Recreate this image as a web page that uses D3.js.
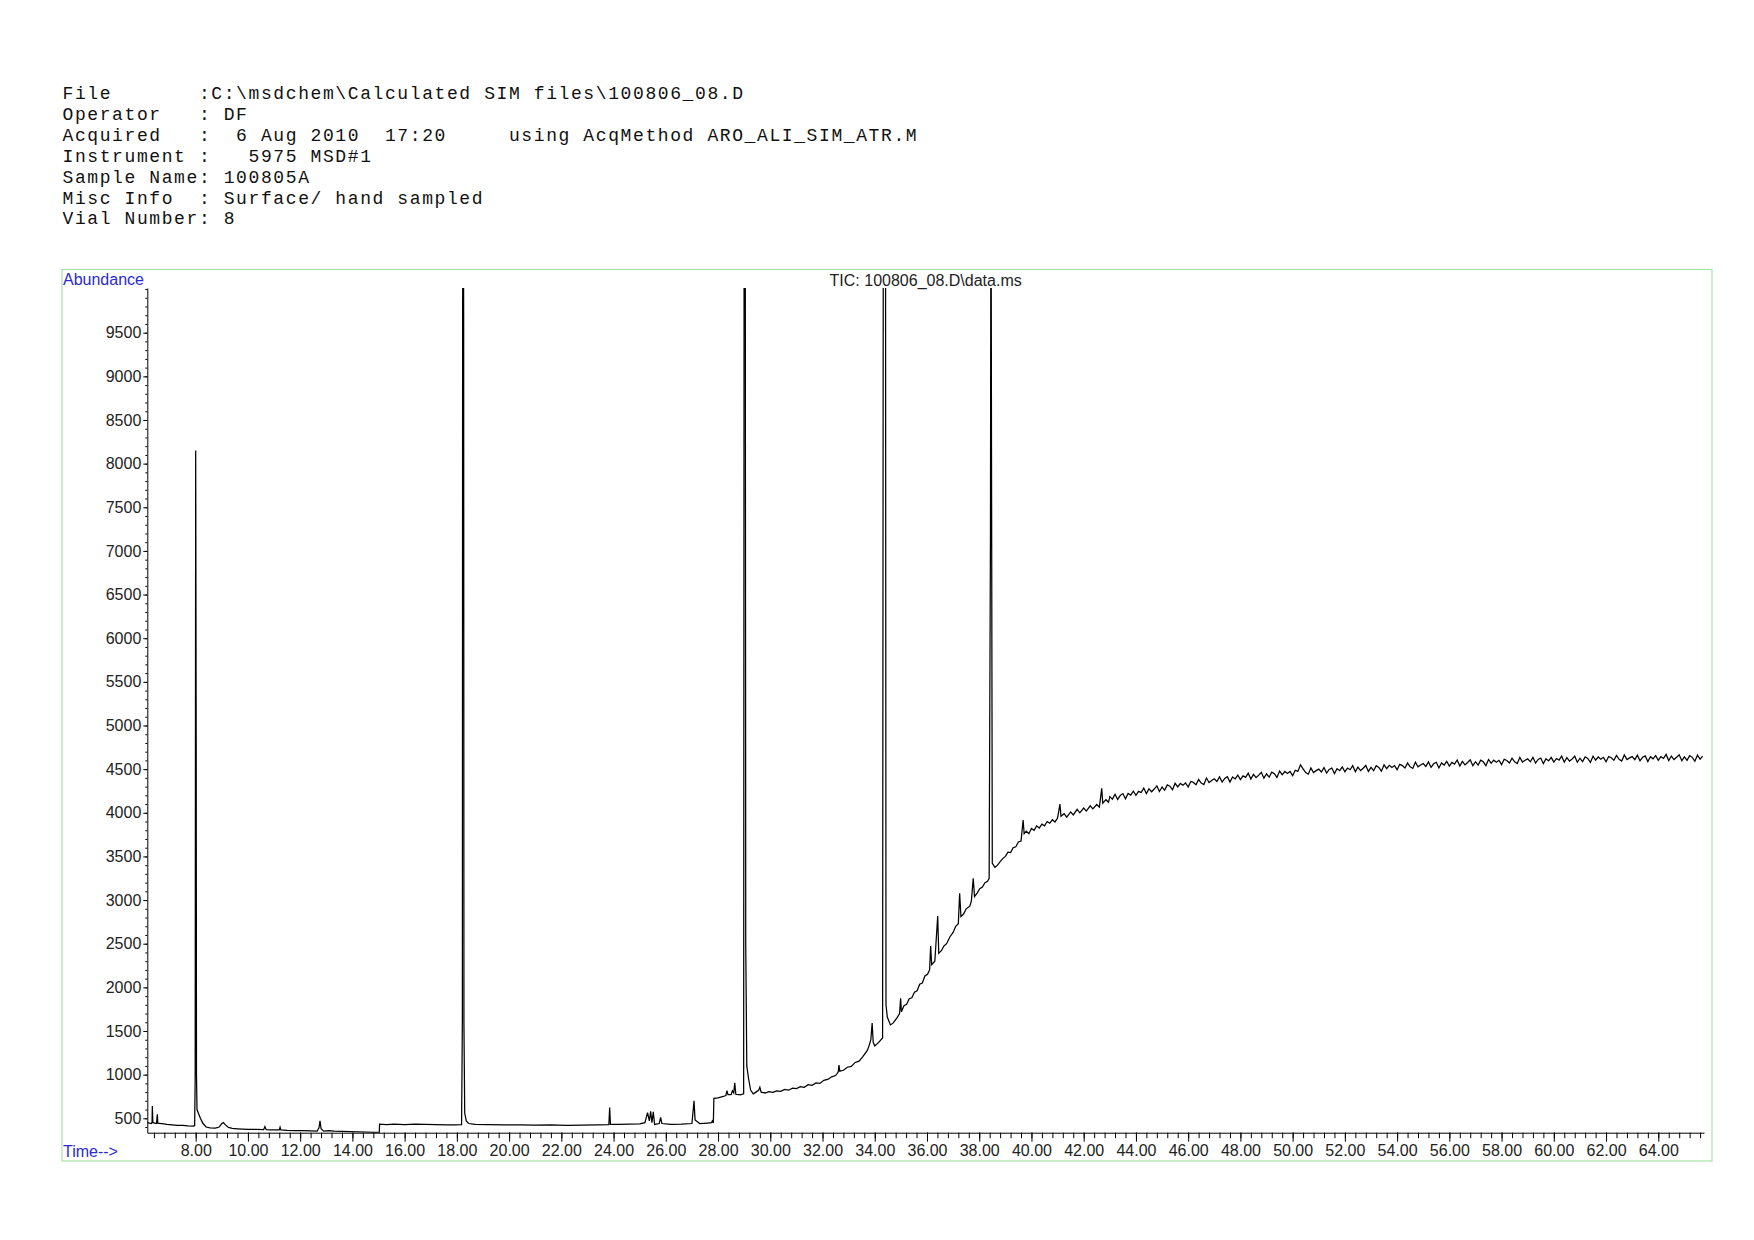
<!DOCTYPE html>
<html>
<head>
<meta charset="utf-8">
<script src="https://cdn.jsdelivr.net/npm/d3@7"></script>
<style>
  html, body { margin: 0; padding: 0; background: #fff; }
  svg { display: block; }
</style>
</head>
<body>
<script>
// header block printed above the chromatogram
const headerLines = [
  'File       :C:\\msdchem\\Calculated SIM files\\100806_08.D',
  'Operator   : DF',
  'Acquired   :  6 Aug 2010  17:20     using AcqMethod ARO_ALI_SIM_ATR.M',
  'Instrument :   5975 MSD#1',
  'Sample Name: 100805A',
  'Misc Info  : Surface/ hand sampled',
  'Vial Number: 8'
];
const chartTitle = 'TIC: 100806_08.D\\data.ms';

const yTicks = [500, 1000, 1500, 2000, 2500, 3000, 3500, 4000, 4500, 5000,
  5500, 6000, 6500, 7000, 7500, 8000, 8500, 9000, 9500];
const xTicks = [8, 10, 12, 14, 16, 18, 20, 22, 24, 26, 28, 30, 32, 34, 36, 38,
  40, 42, 44, 46, 48, 50, 52, 54, 56, 58, 60, 62, 64];

// TIC trace: [time (min), abundance], up to 43 min
const ticEarly = [
  [6.15, 450], [6.30, 440], [6.33, 455], [6.34, 640], [6.36, 450], [6.50, 440], [6.53, 545], [6.55, 445],
  [6.70, 440], [6.90, 430], [7.10, 425], [7.30, 420], [7.50, 418], [7.70, 412], [7.90, 410], [7.96, 415],
  [7.98, 950], [7.99, 4700], [8.00, 8150], [8.02, 4700], [8.03, 1000], [8.05, 600], [8.10, 560], [8.18, 500],
  [8.28, 440], [8.40, 400], [8.55, 390], [8.75, 388], [8.90, 400], [9.00, 440], [9.06, 452], [9.12, 430],
  [9.25, 395], [9.40, 385], [9.60, 380], [9.80, 376], [10.00, 372], [10.30, 374], [10.60, 370], [10.65, 404],
  [10.70, 370], [10.90, 366], [11.20, 368], [11.23, 398], [11.26, 366], [11.50, 362], [11.80, 360], [12.10, 358],
  [12.40, 356], [12.65, 352], [12.72, 390], [12.76, 472], [12.80, 380], [12.90, 352], [13.10, 358], [13.30, 352],
  [13.60, 350], [13.90, 348], [14.20, 345], [14.50, 343], [14.80, 340], [15.03, 338], [15.04, 432], [15.30, 428],
  [15.60, 432], [16.00, 428], [16.40, 434], [16.80, 430], [17.20, 428], [17.60, 426], [17.90, 424], [18.18, 426],
  [18.21, 1600], [18.22, 9700], [18.24, 12000], [18.26, 9700], [18.27, 1600], [18.30, 560], [18.36, 470], [18.45, 440],
  [18.70, 430], [19.20, 428], [19.80, 426], [20.40, 424], [21.00, 422], [21.60, 425], [22.20, 420], [22.80, 422],
  [23.40, 424], [23.82, 428], [23.85, 624], [23.88, 430], [24.20, 430], [24.60, 432], [25.00, 436], [25.20, 450],
  [25.30, 565], [25.37, 470], [25.42, 580], [25.47, 450], [25.52, 575], [25.57, 430], [25.75, 440], [25.80, 510],
  [25.85, 440], [26.20, 430], [26.60, 432], [27.00, 440], [27.08, 700], [27.12, 480], [27.30, 440], [27.60, 446],
  [27.75, 450], [27.78, 470], [27.82, 445], [27.84, 729], [28.00, 735], [28.20, 750], [28.30, 760], [28.34, 817],
  [28.38, 770], [28.50, 770], [28.55, 815], [28.60, 790], [28.64, 906], [28.68, 775], [28.85, 768], [28.98, 780],
  [29.00, 12000], [29.04, 12000], [29.06, 2500], [29.10, 1100], [29.17, 950], [29.25, 820], [29.35, 780], [29.45, 800],
  [29.55, 820], [29.60, 856], [29.65, 800], [29.80, 790], [29.95, 805], [30.10, 798], [30.25, 815], [30.40, 808],
  [30.55, 830], [30.70, 822], [30.85, 845], [31.00, 840], [31.15, 862], [31.30, 855], [31.45, 885], [31.60, 878],
  [31.75, 905], [31.90, 900], [32.05, 935], [32.20, 945], [32.35, 975], [32.50, 990], [32.60, 1030], [32.63, 1110],
  [32.66, 1040], [32.80, 1050], [32.95, 1085], [33.10, 1095], [33.25, 1140], [33.40, 1155], [33.55, 1210], [33.72, 1280],
  [33.78, 1330], [33.85, 1400], [33.90, 1590], [33.94, 1370], [34.00, 1330], [34.15, 1370], [34.30, 1420], [34.33, 12000],
  [34.41, 12000], [34.43, 1800], [34.48, 1660], [34.60, 1570], [34.70, 1590], [34.85, 1650], [34.95, 1700], [34.99, 1874],
  [35.02, 1720], [35.12, 1790], [35.22, 1805], [35.32, 1870], [35.42, 1880], [35.52, 1945], [35.62, 1960], [35.72, 2035],
  [35.82, 2050], [35.92, 2130], [36.02, 2150], [36.10, 2200], [36.14, 2474], [36.18, 2260], [36.30, 2300], [36.41, 2817],
  [36.45, 2390], [36.55, 2420], [36.65, 2475], [36.75, 2500], [36.88, 2580], [37.00, 2630], [37.10, 2700], [37.20, 2730],
  [37.25, 3077], [37.30, 2810], [37.40, 2840], [37.50, 2900], [37.64, 2930], [37.70, 2990], [37.77, 3249], [37.82, 3040],
  [37.92, 3080], [38.02, 3130], [38.12, 3150], [38.22, 3200], [38.32, 3215], [38.38, 3250], [38.43, 7200], [38.45, 12000],
  [38.47, 8150], [38.50, 3420], [38.60, 3375], [38.70, 3400], [38.80, 3440], [38.90, 3475], [39.00, 3500], [39.10, 3550],
  [39.20, 3545], [39.30, 3600], [39.40, 3610], [39.50, 3665], [39.60, 3675], [39.68, 3917], [39.72, 3760], [39.80, 3790],
  [39.90, 3760], [40.00, 3820], [40.10, 3800], [40.20, 3850], [40.30, 3825], [40.40, 3870], [40.50, 3850], [40.60, 3900],
  [40.70, 3880], [40.80, 3920], [40.90, 3895], [41.00, 3940], [41.09, 4100], [41.13, 3960], [41.25, 3990], [41.35, 3950],
  [41.50, 4010], [41.60, 3975], [41.75, 4040], [41.85, 4000], [42.00, 4055], [42.10, 4020], [42.25, 4080], [42.35, 4045],
  [42.50, 4095], [42.60, 4065], [42.69, 4280], [42.73, 4110], [42.85, 4150], [42.95, 4120]
];

// noisy plateau, one reading every 0.1 min from 43.0 min, one row per minute
const plateauStart = 43.0;
const plateauAbundance = [
  4185, 4156, 4212, 4153, 4199, 4220, 4161, 4222, 4203, 4249,
  4200, 4246, 4232, 4283, 4219, 4275, 4241, 4272, 4308, 4244,
  4295, 4260, 4319, 4304, 4263, 4338, 4297, 4337, 4316, 4341,
  4295, 4359, 4348, 4322, 4381, 4340, 4324, 4398, 4347, 4371,
  4390, 4359, 4412, 4351, 4394, 4413, 4351, 4410, 4388, 4432,
  4380, 4423, 4406, 4454, 4387, 4440, 4403, 4431, 4464, 4397,
  4445, 4408, 4465, 4448, 4405, 4478, 4435, 4473, 4450, 4473,
  4425, 4487, 4474, 4550, 4503, 4460, 4442, 4514, 4461, 4483,
  4500, 4467, 4518, 4455, 4496, 4513, 4449, 4506, 4482, 4524,
  4470, 4512, 4493, 4540, 4471, 4523, 4484, 4511, 4542, 4474,
  4520, 4482, 4539, 4520, 4477, 4549, 4506, 4543, 4519, 4541,
  4493, 4555, 4541, 4513, 4570, 4527, 4508, 4580, 4527, 4548,
  4565, 4532, 4583, 4520, 4561, 4578, 4514, 4571, 4547, 4589,
  4535, 4577, 4558, 4605, 4536, 4588, 4549, 4576, 4607, 4539,
  4585, 4546, 4602, 4584, 4540, 4611, 4567, 4603, 4580, 4601,
  4552, 4613, 4599, 4570, 4626, 4583, 4564, 4635, 4581, 4602,
  4618, 4584, 4635, 4570, 4611, 4627, 4563, 4619, 4594, 4635,
  4581, 4622, 4603, 4649, 4580, 4631, 4591, 4617, 4648, 4579,
  4625, 4586, 4641, 4622, 4577, 4648, 4603, 4639, 4614, 4635,
  4585, 4645, 4631, 4601, 4656, 4612, 4592, 4663, 4609, 4629,
  4644, 4609, 4660, 4595, 4636, 4652, 4587, 4643, 4618, 4656,
  4602, 4643, 4623, 4669, 4599, 4650, 4610, 4636, 4665, 4597,
  4640, 4600, 4655, 4635, 4590, 4660, 4615, 4650
];

const width = 1754;
const height = 1240;
const plot = { left: 147.3, right: 1704, top: 288, bottom: 1132.7 };
const sans = '"Liberation Sans", Arial, sans-serif';

const ticTrace = ticEarly.concat(plateauAbundance.map((v, i) => [plateauStart + i * 0.1, v]));

const svg = d3.select('body').append('svg')
  .attr('width', width)
  .attr('height', height);

// header text
svg.append('g')
  .selectAll('text')
  .data(headerLines)
  .enter().append('text')
    .attr('x', 62.5)
    .attr('y', (d, i) => 99 + i * 20.9)
    .attr('xml:space', 'preserve')
    .style('white-space', 'pre')
    .style('font-family', '"Liberation Mono", "Courier New", monospace')
    .style('font-size', '18px')
    .style('letter-spacing', '1.6px')
    .attr('fill', '#111')
    .text(d => d);

// green frame
svg.append('rect')
  .attr('x', 62)
  .attr('y', 269.5)
  .attr('width', 1650)
  .attr('height', 891.5)
  .attr('fill', 'none')
  .attr('stroke', '#a6e3a6')
  .attr('stroke-width', 1.2);

const x = d3.scaleLinear()
  .domain([6.147, 65.75])
  .range([plot.left, plot.right]);
const y = d3.scaleLinear()
  .domain([335, 10012])
  .range([plot.bottom, plot.top]);

// minor ticks first, so major ticks draw over them
svg.append('g')
  .attr('transform', `translate(0, ${plot.bottom})`)
  .call(d3.axisBottom(x).tickValues(d3.range(6.4, 65.7, 0.4)).tickSize(5.5).tickSizeOuter(0).tickFormat(''))
  .call(g => g.select('.domain').remove());
svg.append('g')
  .attr('transform', `translate(${plot.left}, 0)`)
  .call(d3.axisLeft(y).tickValues(d3.range(400, 10001, 100)).tickSize(2).tickSizeOuter(0).tickFormat(''))
  .call(g => g.select('.domain').remove());

const xAxis = svg.append('g')
  .attr('transform', `translate(0, ${plot.bottom})`)
  .call(d3.axisBottom(x).tickValues(xTicks).tickSize(9).tickSizeOuter(0).tickPadding(3).tickFormat(d3.format('.2f')));
const yAxis = svg.append('g')
  .attr('transform', `translate(${plot.left}, 0)`)
  .call(d3.axisLeft(y).tickValues(yTicks).tickSize(4).tickSizeOuter(0).tickPadding(2).tickFormat(d => d));

[xAxis, yAxis].forEach(g => {
  g.selectAll('text')
    .style('font-family', sans)
    .style('font-size', '16px')
    .attr('fill', '#222');
  g.selectAll('line, path').attr('stroke', '#000');
});

svg.append('clipPath')
  .attr('id', 'plot-clip')
  .append('rect')
    .attr('x', plot.left)
    .attr('y', plot.top)
    .attr('width', plot.right - plot.left)
    .attr('height', plot.bottom - plot.top);

const line = d3.line()
  .x(d => x(d[0]))
  .y(d => y(d[1]));

svg.append('path')
  .datum(ticTrace)
  .attr('clip-path', 'url(#plot-clip)')
  .attr('fill', 'none')
  .attr('stroke', '#000')
  .attr('stroke-width', 1.25)
  .attr('stroke-linejoin', 'miter')
  .attr('d', line);

// labels
svg.append('text')
  .attr('x', 63)
  .attr('y', 284.5)
  .style('font-family', sans)
  .style('font-size', '16px')
  .attr('fill', '#2a2ad6')
  .text('Abundance');
svg.append('text')
  .attr('x', 63)
  .attr('y', 1157)
  .style('font-family', sans)
  .style('font-size', '16px')
  .attr('fill', '#2a2ad6')
  .text('Time-->');
svg.append('text')
  .attr('x', (plot.left + plot.right) / 2)
  .attr('y', 285.5)
  .attr('text-anchor', 'middle')
  .style('font-family', sans)
  .style('font-size', '16px')
  .attr('fill', '#222')
  .text(chartTitle);
</script>
</body>
</html>
